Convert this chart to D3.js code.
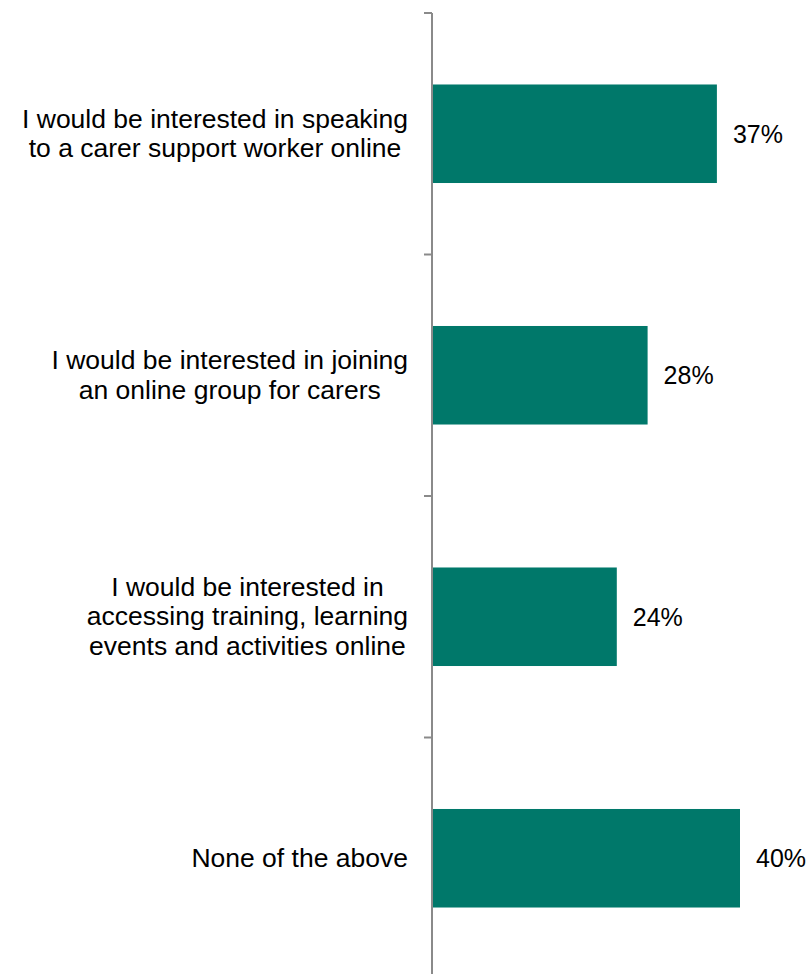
<!DOCTYPE html>
<html>
<head>
<meta charset="utf-8">
<script src="https://cdn.jsdelivr.net/npm/d3@7"></script>
<style>
  html, body { margin: 0; padding: 0; background: #fff; }
  svg { display: block; }
  text { font-family: "Liberation Sans", Arial, sans-serif; fill: #000; }
</style>
</head>
<body>
<svg id="chart" width="809" height="974"></svg>
<script>
const categories = [
  ["I would be interested in speaking", "to a carer support worker online"],
  ["I would be interested in joining", "an online group for carers"],
  ["I would be interested in", "accessing training, learning", "events and activities online"],
  ["None of the above"]
];
const values = [37, 28, 24, 40];
const valueLabels = ["37%", "28%", "24%", "40%"];

const svg = d3.select("#chart");
const axisX = 432;
const valFont = 25;
const catFont = 26.5;
const lineH = 29.3;

const y = d3.scaleBand()
  .domain(d3.range(categories.length))
  .range([13, 979])
  .paddingInner(0.592)
  .paddingOuter(0.296);

const x = d3.scaleLinear().domain([0, 50]).range([axisX, axisX + 385]);

// bars
svg.selectAll("rect.bar").data(values).enter().append("rect")
  .attr("class", "bar")
  .attr("x", x(0))
  .attr("y", (d, i) => y(i))
  .attr("width", d => x(d) - x(0))
  .attr("height", y.bandwidth())
  .attr("fill", "#00786A");

// axis line & ticks
const step = y.step();
const bounds = d3.range(categories.length + 1).map(i => 13 + i * step);
svg.append("line")
  .attr("x1", axisX).attr("x2", axisX)
  .attr("y1", 13).attr("y2", 979)
  .attr("stroke", "#8a8a8a").attr("stroke-width", 2);
svg.selectAll("line.tick").data(bounds).enter().append("line")
  .attr("class", "tick")
  .attr("x1", axisX - 8).attr("x2", axisX)
  .attr("y1", d => d).attr("y2", d => d)
  .attr("stroke", "#8a8a8a").attr("stroke-width", 2);

// value labels
svg.selectAll("text.val").data(values).enter().append("text")
  .attr("class", "val")
  .attr("x", d => x(d) + 16)
  .attr("y", (d, i) => y(i) + y.bandwidth() / 2)
  .attr("dy", "0.35em")
  .attr("font-size", valFont)
  .text((d, i) => valueLabels[i]);

// category labels: block right-aligned, lines centered within block
const rightEdge = 408;
categories.forEach((lines, i) => {
  const g = svg.append("g");
  const texts = lines.map(l => g.append("text").attr("font-size", catFont).text(l));
  const widths = texts.map(t => t.node().getComputedTextLength());
  const maxW = d3.max(widths);
  const cx = rightEdge - maxW / 2;
  const cy = y(i) + y.bandwidth() / 2;
  const n = lines.length;
  texts.forEach((t, j) => {
    t.attr("x", cx)
     .attr("text-anchor", "middle")
     .attr("y", cy + (j - (n - 1) / 2) * lineH)
     .attr("dy", "0.33em");
  });
});
</script>
</body>
</html>
